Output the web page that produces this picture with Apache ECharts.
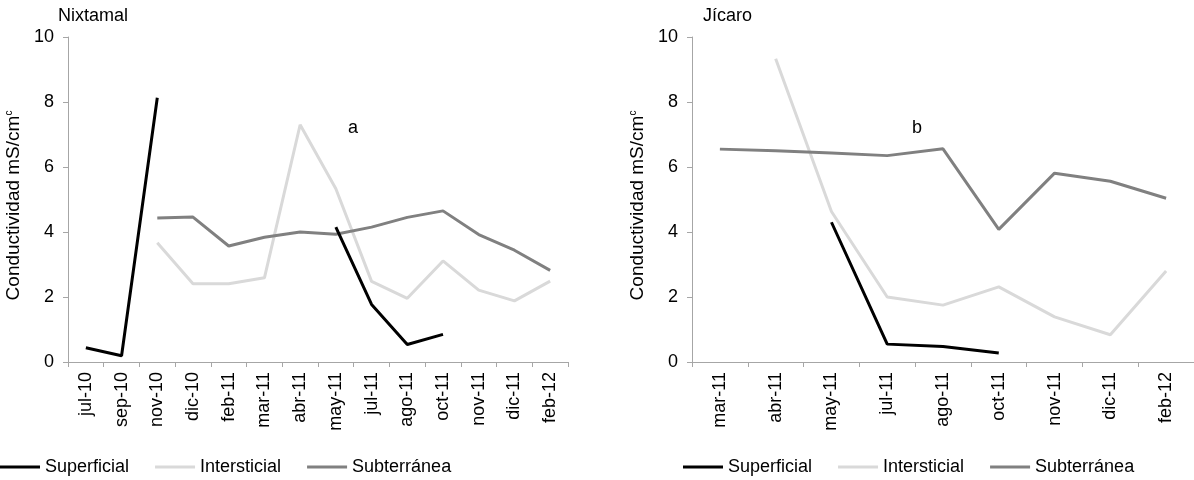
<!DOCTYPE html>
<html><head><meta charset="utf-8">
<script src="https://cdn.jsdelivr.net/npm/echarts@6/dist/echarts.min.js"></script>
<style>html,body{margin:0;padding:0;background:#fff}#c{width:1194px;height:480px}</style>
</head><body><div id="c"></div>
<script>
const catsN = ['jul-10','sep-10','nov-10','dic-10','feb-11','mar-11','abr-11','may-11','jul-11','ago-11','oct-11','nov-11','dic-11','feb-12'];
const supN  = [0.44,0.19,8.13,null,null,null,null,4.15,1.77,0.54,0.85,null,null,null];
const intN  = [null,null,3.67,2.41,2.41,2.59,7.30,5.33,2.48,1.96,3.11,2.21,1.88,2.49];
const subN  = [null,null,4.43,4.46,3.57,3.84,4.00,3.93,4.15,4.45,4.65,3.92,3.44,2.82];

const catsJ = ['mar-11','abr-11','may-11','jul-11','ago-11','oct-11','nov-11','dic-11','feb-12'];
const supJ  = [null,null,4.30,0.55,0.48,0.28,null,null,null];
const intJ  = [null,9.33,4.63,2.00,1.75,2.31,1.39,0.84,2.80];
const subJ  = [6.55,6.50,6.43,6.35,6.56,4.08,5.81,5.56,5.04];

const yTicks = [0,2,4,6,8,10];
const seriesNames = ['Superficial','Intersticial','Subterránea'];
const colors = ['#000000','#d9d9d9','#808080'];

const FONT = 'Liberation Sans, Arial, sans-serif';
const axisColor = '#a6a6a6';

function xAxis(cats, gi){
  return {type:'category', gridIndex:gi, data:cats, boundaryGap:true,
    axisLine:{lineStyle:{color:axisColor,width:1}},
    axisTick:{show:true, length:5, lineStyle:{color:axisColor}, alignWithLabel:false},
    axisLabel:{rotate:90, interval:0, margin:10, color:'#000', fontSize:18, fontFamily:FONT}};
}
function yAxis(gi){
  return {type:'value', gridIndex:gi, min:yTicks[0], max:yTicks[yTicks.length-1], interval:2,
    splitLine:{show:false},
    axisLine:{show:true, lineStyle:{color:axisColor,width:1}},
    axisTick:{show:true, length:5, lineStyle:{color:axisColor}},
    axisLabel:{margin:14, color:'#000', fontSize:18, fontFamily:FONT},
    name:'Conductividad mS/cm{sup|c}', nameLocation:'middle', nameRotate:90, nameGap:44,
    nameTextStyle:{color:'#000', fontSize:19, fontFamily:FONT, padding:[0,12,0,0],
      rich:{sup:{fontSize:10, fontFamily:FONT, color:'#000', verticalAlign:'top', padding:[0,0,10,0]}}}};
}
function mk(name, data, gi, ci){
  return {name:name, type:'line', xAxisIndex:gi, yAxisIndex:gi, data:data,
    symbol:'none', connectNulls:false, lineStyle:{color:colors[ci], width:3},
    itemStyle:{color:colors[ci]}, z: ci===0?5:(ci===2?4:3)};
}
const legendBase = {orient:'horizontal', icon:'rect', itemWidth:40, itemHeight:3, itemGap:26,
  textStyle:{color:'#000', fontSize:18, fontFamily:FONT}, data:seriesNames, selectedMode:false};

const chart = echarts.init(document.getElementById('c'), null, {renderer:'canvas'});
chart.setOption({
  animation:false,
  backgroundColor:'#fff',
  title:[
    {text:'Nixtamal', left:53, top:2, textStyle:{fontSize:18, fontWeight:'normal', color:'#000', fontFamily:FONT}},
    {text:'Jícaro', left:698, top:2, textStyle:{fontSize:18, fontWeight:'normal', color:'#000', fontFamily:FONT}}
  ],
  grid:[
    {left:68, top:37, width:500, height:325, containLabel:false},
    {left:692, top:37, width:507, height:325, containLabel:false}
  ],
  xAxis:[xAxis(catsN,0), xAxis(catsJ,1)],
  yAxis:[yAxis(0), yAxis(1)],
  legend:[
    Object.assign({}, legendBase, {left:-5, top:453}),
    Object.assign({}, legendBase, {left:678, top:453})
  ],
  graphic:[
    {type:'text', left:348, top:119, style:{text:'a', fontSize:18, fontFamily:FONT, fill:'#000'}},
    {type:'text', left:912, top:119, style:{text:'b', fontSize:18, fontFamily:FONT, fill:'#000'}}
  ],
  series:[
    mk(seriesNames[1], intN, 0, 1), mk(seriesNames[2], subN, 0, 2), mk(seriesNames[0], supN, 0, 0),
    mk(seriesNames[1], intJ, 1, 1), mk(seriesNames[2], subJ, 1, 2), mk(seriesNames[0], supJ, 1, 0)
  ]
});
</script></body></html>
